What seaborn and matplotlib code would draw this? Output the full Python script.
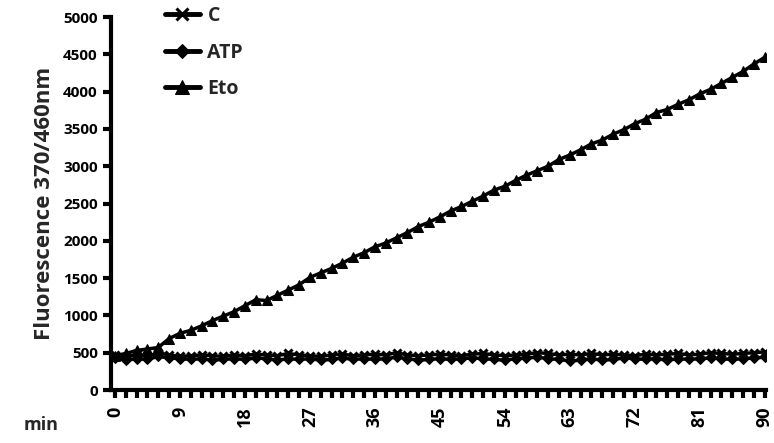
import numpy as np
import pandas as pd
import matplotlib
matplotlib.use("Agg")
import matplotlib.pyplot as plt
import seaborn as sns

# time points every 1.5 min, 0..90
minutes = [i * 1.5 for i in range(61)]

c_vals = [470, 440, 480, 450, 500, 470, 450, 460, 470, 460, 450, 470, 460, 480, 470, 460,
          490, 470, 460, 450, 470, 480, 460, 470, 480, 470, 500, 470, 460, 470, 480, 470,
          460, 480, 490, 470, 460, 470, 480, 500, 490, 470, 480, 470, 490, 470, 480, 470,
          460, 480, 470, 480, 490, 470, 480, 500, 490, 480, 490, 500, 510]
atp_vals = [430, 400, 420, 410, 450, 430, 420, 410, 420, 400, 410, 420, 410, 430, 420, 400,
            420, 410, 420, 400, 410, 430, 410, 420, 410, 420, 440, 420, 400, 410, 420, 410,
            420, 430, 420, 410, 400, 420, 430, 440, 420, 410, 390, 400, 420, 400, 410, 430,
            420, 410, 420, 400, 420, 410, 420, 430, 420, 410, 420, 430, 440]
eto_vals = [460, 490, 530, 550, 570, 690, 760, 800, 860, 930, 990, 1050, 1130, 1210, 1200, 1270,
            1340, 1410, 1510, 1570, 1630, 1700, 1780, 1840, 1920, 1970, 2040, 2110, 2190, 2250,
            2320, 2400, 2460, 2530, 2600, 2680, 2730, 2810, 2880, 2940, 3000, 3090, 3150, 3220,
            3300, 3350, 3430, 3490, 3570, 3630, 3720, 3760, 3830, 3890, 3970, 4030, 4110, 4190,
            4270, 4370, 4460]

label_minutes = [0, 9, 18, 27, 36, 45, 54, 63, 72, 81, 90]

sns.set_style("white")
plt.rcParams['font.family'] = ['Open Sans', 'DejaVu Sans']

fig = plt.figure(figsize=(7.74, 4.43), dpi=100)
ax = fig.add_axes([0.1434, 0.1196, 0.846, 0.842])

sns.lineplot(x=minutes, y=c_vals, ax=ax, color='black', lw=2.5, marker='x',
             markersize=6, markeredgewidth=2.2, markeredgecolor='black', label='C')
sns.lineplot(x=minutes, y=atp_vals, ax=ax, color='black', lw=2.5, marker='D',
             markersize=5, markeredgecolor='black', label='ATP')
sns.lineplot(x=minutes, y=eto_vals, ax=ax, color='black', lw=2.5, marker='^',
             markersize=7, markeredgecolor='black', label='Eto')

ax.set_xlim(-0.55, 90.15)
ax.set_ylim(0, 5000)
ax.set_yticks(range(0, 5001, 500))
ax.set_xticks(minutes)
ax.set_xticklabels([str(int(m)) if m in label_minutes else '' for m in minutes],
                   rotation=90, fontsize=13, fontweight='bold')
for lab in ax.get_yticklabels():
    lab.set_fontsize(11)
    lab.set_fontweight('bold')

sns.despine(ax=ax)
for s in ['left', 'bottom']:
    ax.spines[s].set_linewidth(3)
    ax.spines[s].set_color('black')
ax.tick_params(axis='both', direction='out', length=6, width=3, colors='black',
               bottom=True, left=True)
ax.tick_params(axis='x', pad=6)

ax.set_ylabel('Fluorescence 370/460nm', fontsize=16, fontweight='bold', labelpad=6)
ax.set_xlabel('')
fig.text(0.03, 0.03, 'min', fontsize=13, fontweight='bold')

leg = ax.legend(loc='upper left', bbox_to_anchor=(0.07, 1.05), frameon=False,
                prop={'size': 14, 'weight': 'bold'}, handlelength=1.8, markerscale=1.4,
                labelspacing=0.85, handletextpad=0.4, borderaxespad=0)
for h in leg.get_lines():
    h.set_linewidth(3.5)

fig.savefig('out.png', dpi=100)
